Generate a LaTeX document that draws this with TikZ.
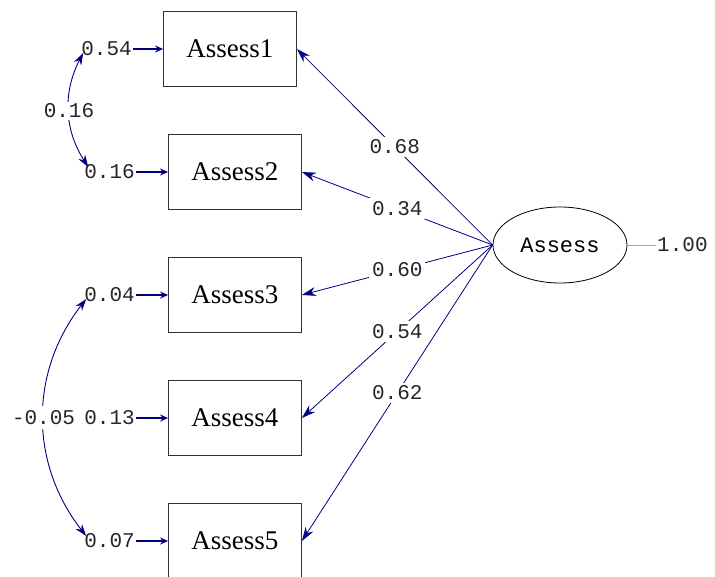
\documentclass[tikz,border=0pt]{standalone}
\usepackage{fontspec}
\setmainfont{Liberation Serif}
\newfontfamily\numfont{Liberation Mono}
\usepackage{xcolor}
\usetikzlibrary{shapes,arrows.meta,positioning,calc}
\definecolor{pathblue}{RGB}{0,0,128}
\definecolor{boxgray}{RGB}{50,50,50}

\begin{document}
\begin{tikzpicture}[x=1pt, y=1pt,
    obs/.style={rectangle, draw=boxgray, thick, minimum width=133pt, minimum height=75pt,
        font=\fontsize{27}{30}\selectfont},
    lat/.style={ellipse, draw, thick, minimum width=134pt, minimum height=76pt,
        font=\numfont\fontsize{22}{24}\selectfont},
    num/.style={inner sep=1pt, font=\numfont\fontsize{21}{24}\selectfont, text=black!85},
    coef/.style={num, fill=white, inner sep=3pt},
    load/.style={draw=pathblue, line width=0.8pt, -{Stealth[length=14pt, width=9pt]}},
    err/.style={draw=pathblue, line width=1.8pt, -{Stealth[length=8pt, width=7pt]}},
    cov/.style={draw=pathblue, line width=0.9pt,
        {Stealth[length=12pt, width=8pt]}-{Stealth[length=12pt, width=8pt]}}
]
    \useasboundingbox (0,0) rectangle (715,-576);

    % Observed variables
    \node[obs] (a1) at (230,-49) {Assess1};
    \foreach \i in {2,...,5} {
        \node[obs] (a\i) at (235,{-172-123*(\i-2)}) {Assess\i};
    }

    % Latent variable
    \node[lat] (lat) at (560,-245) {Assess};
    \node[num, anchor=west] (var) at (656,-245) {1.00};
    \draw[gray!70] (lat) -- (var);

    % Error variances
    \node[num, anchor=east] (e1) at (133,-49) {0.54};
    \node[num, anchor=east] (e2) at (136,-172) {0.16};
    \node[num, anchor=east] (e3) at (136,-295) {0.04};
    \node[num, anchor=east] (e4) at (136,-418) {0.13};
    \node[num, anchor=east] (e5) at (136,-541) {0.07};
    \foreach \i in {1,...,5} {
        \draw[err] (e\i) -- (a\i);
    }

    % Error covariances
    \draw[cov] ([shift={(3,-4)}]e1.west) to[bend right=30]
        node[coef, inner sep=2pt] {0.16} ([shift={(5,5)}]e2.west);
    \draw[cov] ([shift={(3,-4)}]e3.west) to[bend right=38]
        node[coef, inner xsep=0pt, inner ysep=4pt] {-0.05} ([shift={(3,5)}]e5.west);

    % Loadings
    \draw[load] (lat.west) -- node[coef] {0.68} (a1.east);
    \draw[load] (lat.west) -- node[coef] {0.34} (a2.east);
    \draw[load] (lat.west) -- node[coef] {0.60} (a3.east);
    \draw[load] (lat.west) -- node[coef] {0.54} (a4.east);
    \draw[load] (lat.west) -- node[coef] {0.62} (a5.east);
\end{tikzpicture}
\end{document}
